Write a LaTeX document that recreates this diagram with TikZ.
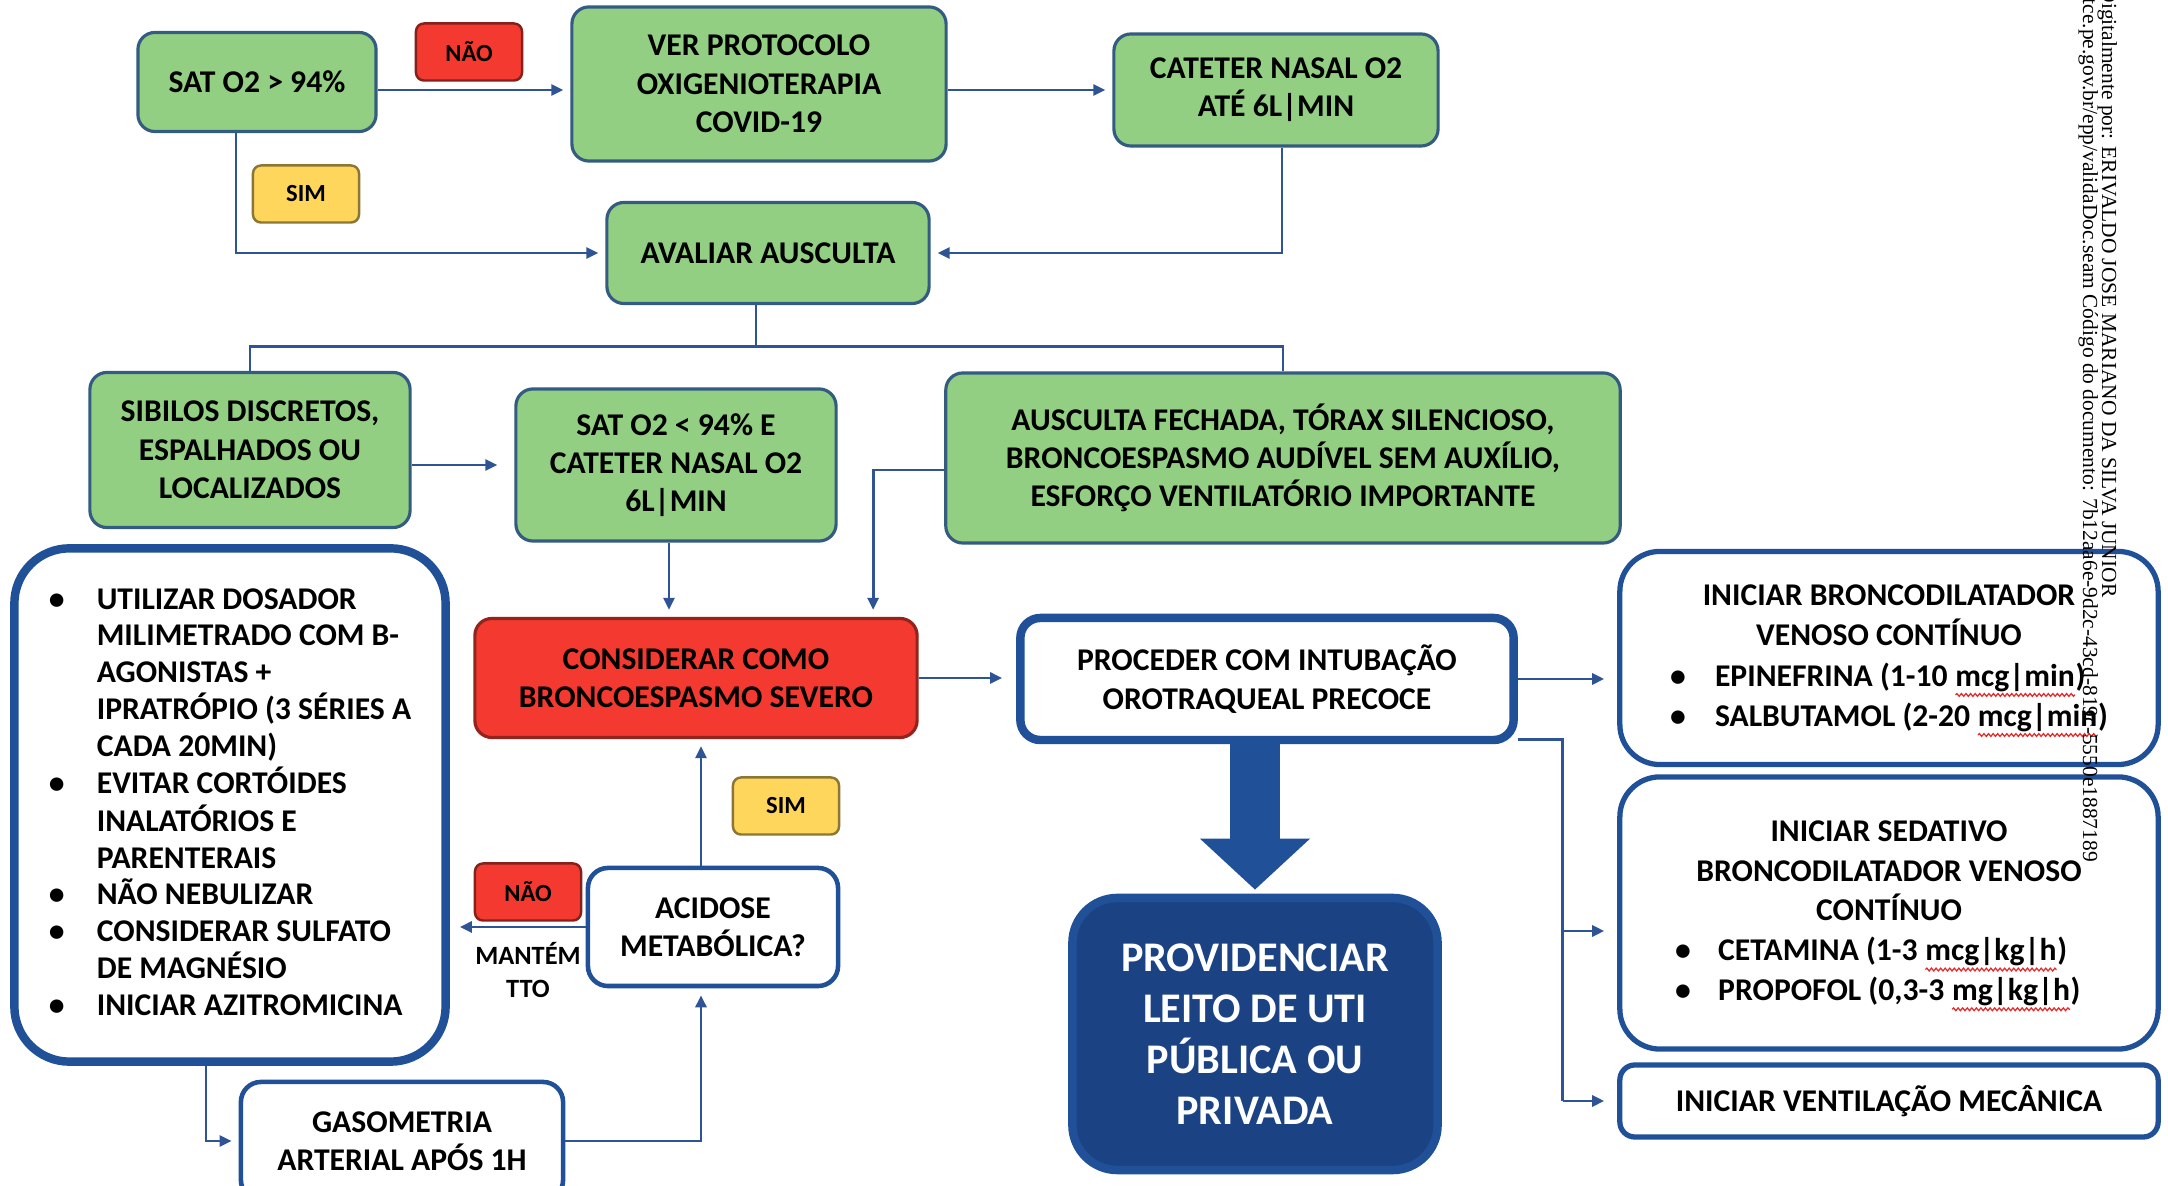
\documentclass[tikz,border=0pt]{standalone}
\usepackage{fontspec}
\setmainfont{Carlito}
\newfontfamily\stampfont{Liberation Serif}
\usetikzlibrary{positioning,arrows.meta,decorations.pathmorphing}

\definecolor{boxgreen}{RGB}{147,207,131}
\definecolor{greenline}{RGB}{52,92,128}
\definecolor{alertred}{RGB}{244,58,48}
\definecolor{tagyellow}{RGB}{255,214,92}
\definecolor{linkblue}{RGB}{47,84,150}
\definecolor{frameblue}{RGB}{32,80,152}
\definecolor{deepblue}{RGB}{27,67,132}
\definecolor{spellred}{RGB}{230,40,40}

\newcommand{\spell}[1]{\tikz[baseline=(word.base), x=1cm, y=1cm]{%
  \node[inner sep=0pt, outer sep=0pt, draw=none, fill=none, minimum width=0pt, minimum height=0pt,
    rounded corners=0pt, text=black, anchor=base] (word) at (0,0) {#1};
  \draw[spellred, line width=0.35pt, sharp corners, decorate, decoration={snake, amplitude=0.4pt, segment length=1.3pt}]
    ([yshift=-1pt]word.south west) -- ([yshift=-1pt]word.south east);}}

\begin{document}
\begin{tikzpicture}[
  x=0.01cm, y=-0.01cm,
  greennode/.style={draw=greenline, fill=boxgreen, line width=0.9pt, rounded corners=0.17cm,
    align=center, inner sep=0pt, font=\fontsize{9}{10.9}\selectfont\bfseries},
  rednode/.style={greennode, fill=alertred, draw=alertred!60!black},
  whitenode/.style={draw=frameblue, fill=white, line width=1.3pt, rounded corners=0.2cm,
    align=center, inner sep=0pt, font=\fontsize{9}{10.9}\selectfont\bfseries},
  framenode/.style={whitenode, line width=2.4pt},
  tagnode/.style={draw=#1!55!black, fill=#1, line width=0.7pt, rounded corners=0.08cm,
    minimum width=1.06cm, minimum height=0.57cm, inner sep=0pt, font=\fontsize{7}{8}\selectfont\bfseries},
  notenode/.style={align=center, inner sep=0pt, font=\fontsize{7.5}{9.4}\selectfont\bfseries},
  stampnode/.style={rotate=-90, anchor=base west, inner sep=0pt, font=\stampfont\fontsize{6.1}{7}\selectfont},
  link/.style={draw=linkblue, line width=0.8pt},
  arrow/.style={link, -{Triangle[length=1.2mm,width=1.1mm]}, shorten >=2pt},
  bigarrow/.style={draw=frameblue, line width=0.49cm, -{Triangle[length=0.51cm,width=1.07cm]}, shorten >=0.04cm}]

\useasboundingbox (0,0) rectangle (2168,1186);
\fill[white] (0,0) rectangle (2168,1186);
\clip (0,0) rectangle (2168,1186);

% upper part
\node[greennode, minimum width=2.38cm, minimum height=0.99cm] (sat) at (257,82) {SAT O2 > 94\%};
\node[greennode, minimum width=3.74cm, minimum height=1.54cm] (ver) at (759,84) {VER PROTOCOLO\\OXIGENIOTERAPIA\\COVID-19};
\node[greennode, minimum width=3.24cm, minimum height=1.12cm] (cat) at (1276,90) {CATETER NASAL O2\\ATÉ 6L|MIN};
\node[greennode, minimum width=3.22cm, minimum height=1.01cm] (ava) at (768,253) {AVALIAR AUSCULTA};
\node[tagnode=alertred] (nao1) at (469,52) {NÃO};
\node[tagnode=tagyellow] (sim1) at (306,194) {SIM};

% ausculta
\node[greennode, minimum width=3.20cm, minimum height=1.55cm] (sib) at (250,450) {SIBILOS DISCRETOS,\\ESPALHADOS OU\\LOCALIZADOS};
\node[greennode, minimum width=3.20cm, minimum height=1.52cm] (sat2) at (676,465) {SAT O2 < 94\% E\\CATETER NASAL O2\\6L|MIN};
\node[greennode, minimum width=6.74cm, minimum height=1.70cm] (aus) at (1283,458) {AUSCULTA FECHADA, TÓRAX SILENCIOSO,\\BRONCOESPASMO AUDÍVEL SEM AUXÍLIO,\\ESFORÇO VENTILATÓRIO IMPORTANTE};

% severo
\node[rednode, minimum width=4.42cm, minimum height=1.19cm] (cons) at (696,678) {CONSIDERAR COMO\\BRONCOESPASMO SEVERO};
\node[framenode, minimum width=4.93cm, minimum height=1.22cm] (proc) at (1267,679) {PROCEDER COM INTUBAÇÃO\\OROTRAQUEAL PRECOCE};
\node[framenode, rounded corners=0.45cm, fill=deepblue, draw=frameblue, text=white, minimum width=3.65cm, minimum height=2.72cm,
  font=\fontsize{12}{14.5}\selectfont\bfseries] (prov) at (1255,1034) {PROVIDENCIAR\\LEITO DE UTI\\PÚBLICA OU\\PRIVADA};

% leve / moderado
\node[framenode, rounded corners=0.55cm, minimum width=4.31cm, minimum height=5.13cm,
  font=\fontsize{9}{10.4}\selectfont\bfseries] (care) at (230,805) {\begin{tabular}{@{}p{0.48cm}@{}l@{}}
\textbullet & UTILIZAR DOSADOR\\
 & MILIMETRADO COM B-\\
 & AGONISTAS +\\
 & IPRATRÓPIO (3 SÉRIES A\\
 & CADA 20MIN)\\
\textbullet & EVITAR CORTÓIDES\\
 & INALATÓRIOS E\\
 & PARENTERAIS\\
\textbullet & NÃO NEBULIZAR\\
\textbullet & CONSIDERAR SULFATO\\
 & DE MAGNÉSIO\\
\textbullet & INICIAR AZITROMICINA
\end{tabular}};
\node[whitenode, minimum width=2.50cm, minimum height=1.18cm] (acid) at (713,927) {ACIDOSE\\METABÓLICA?};
\node[whitenode, minimum width=3.22cm, minimum height=1.18cm] (gaso) at (402,1141) {GASOMETRIA\\ARTERIAL APÓS 1H};
\node[tagnode=tagyellow] (sim2) at (786,806) {SIM};
\node[tagnode=alertred] (nao2) at (528,892) {NÃO};
\node[notenode, below=0.2cm of nao2] (mant) {MANTÉM\\TTO};

% UTI
\node[whitenode, line width=1.5pt, rounded corners=0.4cm, minimum width=5.38cm, minimum height=2.13cm,
  font=\fontsize{9}{11.4}\selectfont\bfseries] (bron) at (1889,658) {\begin{tabular}{@{}p{0.45cm}@{}l@{}}
\multicolumn{2}{c}{INICIAR BRONCODILATADOR}\\
\multicolumn{2}{c}{VENOSO CONTÍNUO}\\
\textbullet & EPINEFRINA (1-10 \spell{mcg|min})\\
\textbullet & SALBUTAMOL (2-20 \spell{mcg|min})
\end{tabular}};
\node[whitenode, line width=1.5pt, rounded corners=0.4cm, minimum width=5.38cm, minimum height=2.72cm,
  font=\fontsize{9}{11.3}\selectfont\bfseries] (sed) at (1889,913) {\begin{tabular}{@{}p{0.43cm}@{}l@{}}
\multicolumn{2}{c}{INICIAR SEDATIVO}\\
\multicolumn{2}{c}{BRONCODILATADOR VENOSO}\\
\multicolumn{2}{c}{CONTÍNUO}\\
\textbullet & CETAMINA (1-3 \spell{mcg|kg|h})\\
\textbullet & PROPOFOL (0,3-3 \spell{mg|kg|h})
\end{tabular}};
\node[whitenode, line width=1.5pt, rounded corners=0.15cm, minimum width=5.38cm, minimum height=0.72cm] (vent) at (1889,1101) {INICIAR VENTILAÇÃO MECÂNICA};

% connectors
\draw[arrow] (sat.east |- cat.west) -- (ver.west |- cat.west);
\draw[arrow] (ver.east |- cat.west) -- (cat.west);
\draw[arrow] ([xshift=-0.21cm]sat.south) |- (ava.west);
\draw[arrow] ([xshift=0.06cm]cat.south) |- (ava.east);
\draw[link] ([xshift=-0.12cm]ava.south) -- ++(0,41) coordinate (fork);
\draw[link] (sib.north) |- (fork) -| (aus.north);
\draw[arrow, shorten >=0.17cm] (sib.east |- sat2.west) -- (sat2.west);
\draw[arrow] ([xshift=-0.07cm]sat2.south) -- ([xshift=-0.07cm]sat2.south |- cons.north);
\draw[arrow] ([yshift=-0.12cm]aus.west) -| ([xshift=1.77cm]cons.north);
\draw[arrow, shorten >=0.14cm] (cons.east) -- (cons.east -| proc.west);
\draw[arrow, shorten >=0.13cm] (proc.east) -- (proc.east -| bron.west);
\draw[link] ([yshift=0.05cm]proc.south east) -- ++(45,0) coordinate (bus) -- (bus |- vent.west);
\draw[arrow, shorten >=0.13cm] ([yshift=-0.18cm]sed.west -| bus) -- ([yshift=-0.18cm]sed.west);
\draw[arrow, shorten >=0.13cm] (bus |- vent.west) -- (vent.west);
\draw[arrow] ([xshift=-0.12cm]acid.north) -- ([xshift=-0.12cm]acid.north |- cons.south);
\draw[arrow, shorten >=0.1cm] (acid.west) -- (acid.west -| care.east);
\draw[arrow] ([xshift=-0.24cm]care.south) |- (gaso.west);
\draw[arrow] (gaso.east) -| ([xshift=-0.12cm]acid.south);
\draw[bigarrow] (proc.south -| prov.north) -- (prov.north);

% signature
\node[stampnode] (sign) at (2102,-13) {Digitalmente por: ERIVALDO JOSE MARIANO DA SILVA JUNIOR};
\node[stampnode] (code) at (2083,-2) {tce.pe.gov.br/epp/validaDoc.seam Código do documento: 7b12aa6e-9d2c-43cd-819c-5550e1887189};
\end{tikzpicture}
\end{document}
